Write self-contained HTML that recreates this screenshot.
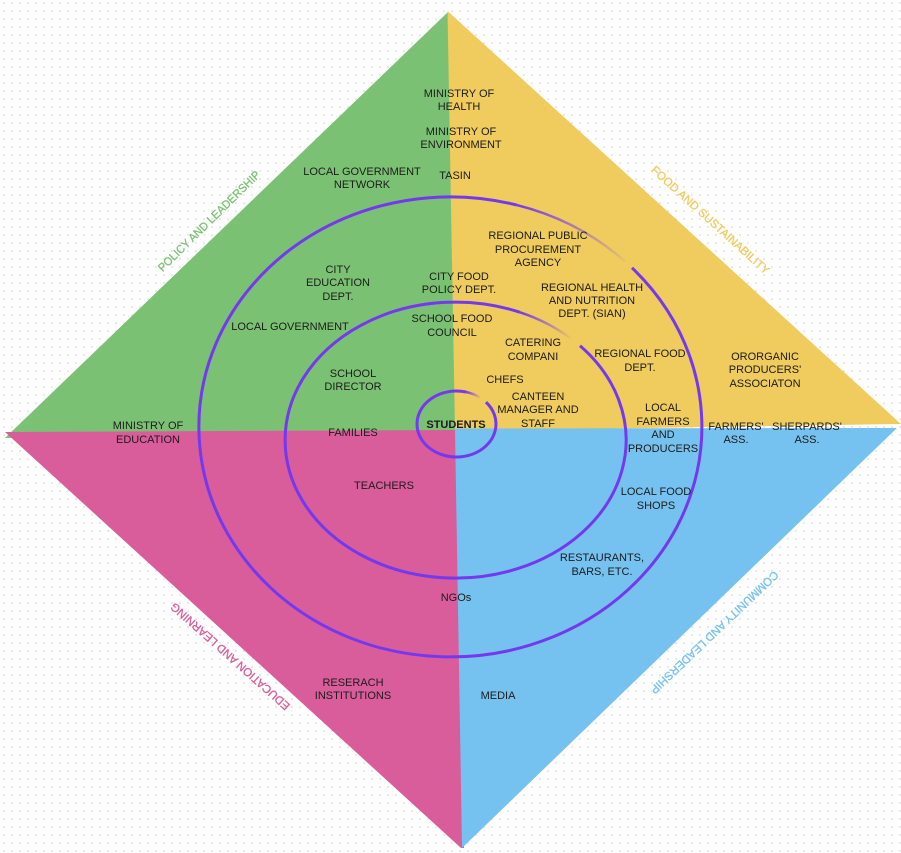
<!DOCTYPE html>
<html>
<head>
<meta charset="utf-8">
<style>
  html,body{margin:0;padding:0;background:#fff;}
  svg{display:block;}
  .t{font-family:"Liberation Sans",Arial,sans-serif;font-size:11px;fill:#1c1c1c;text-anchor:middle;}
  .b{font-weight:bold;}
  .r{font-family:"Liberation Sans",Arial,sans-serif;font-size:11.5px;text-anchor:middle;stroke-width:0.3;}
</style>
</head>
<body>
<svg width="901" height="853" viewBox="0 0 901 853" xmlns="http://www.w3.org/2000/svg">
  <defs>
    <pattern id="dots" width="8" height="8" patternUnits="userSpaceOnUse">
      <circle cx="4" cy="3" r="0.9" fill="#d9d9d9"/>
    </pattern>
    <linearGradient id="fo" gradientUnits="userSpaceOnUse" x1="517" y1="205" x2="626" y2="262">
      <stop offset="0" stop-color="#7439EE" stop-opacity="1"/>
      <stop offset="1" stop-color="#7439EE" stop-opacity="0.05"/>
    </linearGradient>
    <linearGradient id="fm" gradientUnits="userSpaceOnUse" x1="520" y1="312" x2="570" y2="338">
      <stop offset="0" stop-color="#7439EE" stop-opacity="1"/>
      <stop offset="1" stop-color="#7439EE" stop-opacity="0.05"/>
    </linearGradient>
    <linearGradient id="fs" gradientUnits="userSpaceOnUse" x1="466" y1="392" x2="480" y2="398">
      <stop offset="0" stop-color="#7439EE" stop-opacity="1"/>
      <stop offset="1" stop-color="#7439EE" stop-opacity="0.05"/>
    </linearGradient>
  </defs>

  <rect width="901" height="853" fill="#fff"/>
  <rect width="901" height="853" fill="url(#dots)"/>

  <!-- quadrants -->
  <polygon points="448,12 458,432 5,438" fill="#7BC173"/>
  <polygon points="5,432 459,430 464,848 461,848" fill="#D95C9B"/>
  <polygon points="447.5,11 901,424 455,431" fill="#F0CB5E"/>
  <polygon points="455,428.5 897,428 462,848" fill="#75C2F0"/>

  <!-- rings -->
  <path d="M 632,267.8 A 251.5 230 0 1 1 516.9,205.1" fill="none" stroke="#7439EE" stroke-width="3"/>
  <path d="M 516.9,205.1 A 251.5 230 0 0 1 625.2,261.6" fill="none" stroke="url(#fo)" stroke-width="2.5"/>

  <path d="M 580,345.7 A 170.5 138 0 1 1 520,312.3" fill="none" stroke="#7439EE" stroke-width="3"/>
  <path d="M 520,312.3 A 170.5 138 0 0 1 570,337.8" fill="none" stroke="url(#fm)" stroke-width="2.5"/>

  <path d="M 486,402.1 A 39.5 33 0 1 1 466,392" fill="none" stroke="#7439EE" stroke-width="3"/>
  <path d="M 466,392 A 39.5 33 0 0 1 480,397.5" fill="none" stroke="url(#fs)" stroke-width="2.5"/>

  <!-- side labels -->
  <text class="r" fill="#7BC173" stroke="#7BC173" transform="translate(209,221) rotate(-44.5)" y="4" textLength="138" lengthAdjust="spacingAndGlyphs">POLICY AND LEADERSHIP</text>
  <text class="r" fill="#F0CB5E" stroke="#F0CB5E" transform="translate(710.5,220) rotate(42.1)" y="4" textLength="155" lengthAdjust="spacingAndGlyphs">FOOD AND SUSTAINABILITY</text>
  <text class="r" fill="#D95C9B" stroke="#D95C9B" transform="translate(230,656.5) rotate(221.6)" y="4" textLength="155" lengthAdjust="spacingAndGlyphs">EDUCATION AND LEARNING</text>
  <text class="r" fill="#75C2F0" stroke="#75C2F0" transform="translate(714.5,632.5) rotate(136.4)" y="4" textLength="172" lengthAdjust="spacingAndGlyphs">COMMUNITY AND LEADERSHIP</text>

  <!-- node labels -->
  <text class="t" x="459" y="97">MINISTRY OF</text>
  <text class="t" x="459" y="110">HEALTH</text>

  <text class="t" x="461" y="135">MINISTRY OF</text>
  <text class="t" x="461" y="148">ENVIRONMENT</text>

  <text class="t" x="362" y="175">LOCAL GOVERNMENT</text>
  <text class="t" x="362" y="188">NETWORK</text>

  <text class="t" x="455" y="179">TASIN</text>

  <text class="t" x="538" y="239">REGIONAL PUBLIC</text>
  <text class="t" x="538" y="253">PROCUREMENT</text>
  <text class="t" x="538" y="266">AGENCY</text>

  <text class="t" x="338" y="273">CITY</text>
  <text class="t" x="338" y="286">EDUCATION</text>
  <text class="t" x="338" y="300">DEPT.</text>

  <text class="t" x="459" y="280">CITY FOOD</text>
  <text class="t" x="459" y="293">POLICY DEPT.</text>

  <text class="t" x="592" y="291">REGIONAL HEALTH</text>
  <text class="t" x="592" y="304">AND NUTRITION</text>
  <text class="t" x="592" y="317">DEPT. (SIAN)</text>

  <text class="t" x="290" y="330">LOCAL GOVERNMENT</text>

  <text class="t" x="452" y="322">SCHOOL FOOD</text>
  <text class="t" x="452" y="336">COUNCIL</text>

  <text class="t" x="533" y="346">CATERING</text>
  <text class="t" x="533" y="360">COMPANI</text>

  <text class="t" x="640" y="357">REGIONAL FOOD</text>
  <text class="t" x="640" y="371">DEPT.</text>

  <text class="t" x="765" y="360">ORORGANIC</text>
  <text class="t" x="765" y="373">PRODUCERS'</text>
  <text class="t" x="765" y="387">ASSOCIATON</text>

  <text class="t" x="353" y="377">SCHOOL</text>
  <text class="t" x="353" y="390">DIRECTOR</text>

  <text class="t" x="505" y="383">CHEFS</text>

  <text class="t" x="538" y="400">CANTEEN</text>
  <text class="t" x="538" y="413">MANAGER AND</text>
  <text class="t" x="538" y="427">STAFF</text>

  <text class="t" x="663" y="411">LOCAL</text>
  <text class="t" x="663" y="425">FARMERS</text>
  <text class="t" x="663" y="438">AND</text>
  <text class="t" x="663" y="452">PRODUCERS</text>

  <text class="t" x="736" y="430">FARMERS'</text>
  <text class="t" x="736" y="443">ASS.</text>

  <text class="t" x="807" y="430">SHERPARDS'</text>
  <text class="t" x="807" y="443">ASS.</text>

  <text class="t" x="148" y="429">MINISTRY OF</text>
  <text class="t" x="148" y="443">EDUCATION</text>

  <text class="t" x="353" y="436">FAMILIES</text>

  <text class="t b" x="456" y="428">STUDENTS</text>

  <text class="t" x="384" y="489">TEACHERS</text>

  <text class="t" x="656" y="495">LOCAL FOOD</text>
  <text class="t" x="656" y="509">SHOPS</text>

  <text class="t" x="602" y="561">RESTAURANTS,</text>
  <text class="t" x="602" y="575">BARS, ETC.</text>

  <text class="t" x="456" y="601">NGOs</text>

  <text class="t" x="353" y="686">RESERACH</text>
  <text class="t" x="353" y="699">INSTITUTIONS</text>

  <text class="t" x="498" y="699">MEDIA</text>
</svg>
</body>
</html>
